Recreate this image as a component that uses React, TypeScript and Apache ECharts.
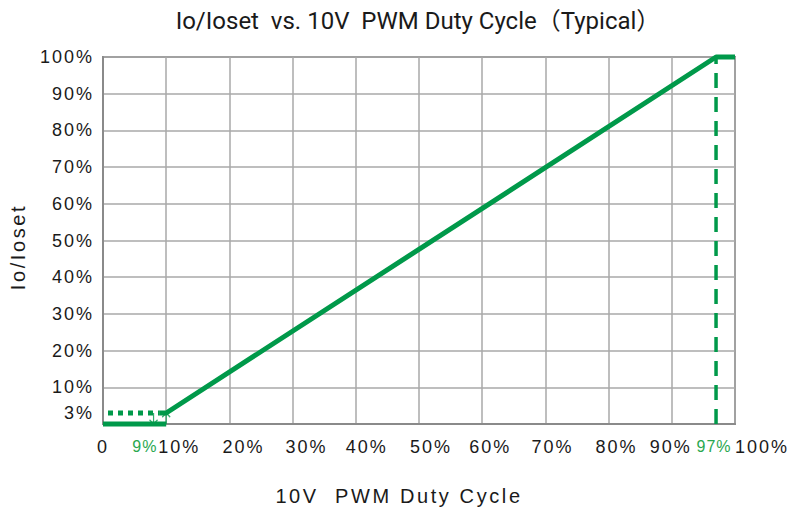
import React, { useEffect, useRef } from 'react';
import * as echarts from 'echarts';

// ---- data ----
const xLabelValues = [0, 9, 10, 20, 30, 40, 50, 60, 70, 80, 90, 97, 100];
const xLabelTexts = ['0', '9%', '10%', '20%', '30%', '40%', '50%', '60%', '70%', '80%', '90%', '97%', '100%'];
const highlightedX = [9, 97];
const yLabelValues = [3, 10, 20, 30, 40, 50, 60, 70, 80, 90, 100];
const yLabelTexts = ['3%', '10%', '20%', '30%', '40%', '50%', '60%', '70%', '80%', '90%', '100%'];

const curveDuty = [9, 10, 97, 100];
const curveIo = [3, 3, 100, 100];
const standbyDuty = [0, 9];
const standbyIo = [3, 3];
const offDuty = [0, 10];
const offIo = [0, 0];
const kneeDuty = [97, 97];
const kneeIo = [0, 100];
const arrowDuty = [8, 10];
const arrowIo = [1.5, 1.5];
const arrowDir = ['down', 'up'];

const GREEN = '#00994a';
const LABEL_GREEN = '#2aa84f';
const GRID = '#a9a9a9';
const FRAME = '#8a8a8a';

// label horizontal shifts (styling only)
const xShift: Record<number, number> = { 0: 0, 9: -15, 10: 13, 20: 14, 30: 14, 40: 11, 50: 12, 60: 8, 70: 7, 80: 8, 90: -1, 97: -2, 100: 27 };

const zip = (a: number[], b: number[]) => a.map((v, i) => [v, b[i]]);

const DOWN = 'path://M4 0 L4 12 M0.5 7.5 L4 12 L7.5 7.5';
const UP = 'path://M4 12 L4 0 M0.5 4.5 L4 0 L7.5 4.5';

function buildOption() {
  const rich: Record<string, any> = {};
  xLabelValues.forEach((v, i) => {
    const s = xShift[v] ?? 0;
    const hl = highlightedX.includes(v);
    rich['l' + i] = {
      fontSize: hl ? 16 : 18,
      color: hl ? LABEL_GREEN : '#1a1a1a',
      fontFamily: 'Liberation Sans, Arial, sans-serif',
      padding: s >= 0 ? [0, 0, 0, 2 * s] : [0, -2 * s, 0, 0],
    };
  });
  return {
    animation: false,
    backgroundColor: '#ffffff',
    grid: {
      left: 103, right: 58, top: 57, bottom: 88,
      show: true, borderColor: FRAME, borderWidth: 2,
    },
    xAxis: {
      type: 'value', min: 0, max: 100, interval: 10,
      axisLine: { show: true, lineStyle: { color: FRAME, width: 2 } },
      axisTick: { show: false },
      splitLine: { show: true, lineStyle: { color: GRID, width: 1.5 } },
      axisLabel: {
        customValues: xLabelValues,
        margin: 14,
        formatter: (v: number) => {
          const i = xLabelValues.indexOf(v);
          return i < 0 ? '' : `{l${i}|${xLabelTexts[i]}}`;
        },
        rich,
      },
    },
    yAxis: {
      type: 'value', min: 0, max: 100, interval: 10,
      axisLine: { show: true, lineStyle: { color: FRAME, width: 2 } },
      axisTick: { show: false },
      splitLine: { show: true, lineStyle: { color: GRID, width: 1.5 } },
      axisLabel: {
        customValues: yLabelValues,
        margin: 9,
        fontSize: 18,
        color: '#1a1a1a',
        fontFamily: 'Liberation Sans, Arial, sans-serif',
        formatter: (v: number) => {
          const i = yLabelValues.indexOf(v);
          return i < 0 ? '' : yLabelTexts[i];
        },
      },
    },
    graphic: [
      {
        type: 'text', x: 418, y: 21,
        style: {
          text: 'Io/Ioset  vs. 10V  PWM Duty Cycle（Typical）',
          fontSize: 24, fill: '#1a1a1a',
          fontFamily: 'Roboto, Noto Sans CJK SC, sans-serif',
          textAlign: 'center', textVerticalAlign: 'middle',
        },
      },
      {
        type: 'text', x: 399, y: 496,
        style: {
          text: '10V  PWM Duty Cycle',
          fontSize: 20, fill: '#1a1a1a',
          fontFamily: 'Liberation Sans, Arial, sans-serif',
          textAlign: 'center', textVerticalAlign: 'middle',
        },
      },
      {
        type: 'text', x: 18, y: 247, rotation: Math.PI / 2,
        style: {
          text: 'Io/Ioset',
          fontSize: 20, fill: '#1a1a1a',
          fontFamily: 'Liberation Sans, Arial, sans-serif',
          textAlign: 'center', textVerticalAlign: 'middle',
        },
      },
    ],
    series: [
      {
        type: 'line', data: zip(kneeDuty, kneeIo), symbol: 'none', clip: false, z: 3,
        lineStyle: { color: GREEN, width: 3.5, type: [15, 9] },
      },
      {
        type: 'line', data: zip(standbyDuty, standbyIo), symbol: 'none', clip: false, z: 3,
        lineStyle: { color: GREEN, width: 5, type: [5, 5], dashOffset: -5 },
      },
      {
        type: 'line', data: zip(offDuty, offIo), symbol: 'none', clip: false, z: 4,
        lineStyle: { color: GREEN, width: 5 },
      },
      {
        type: 'line', data: zip(curveDuty, curveIo), symbol: 'none', clip: false, z: 4,
        lineStyle: { color: GREEN, width: 5 },
      },
      {
        type: 'scatter', clip: false, z: 5,
        data: arrowDuty.map((d, i) => ({
          value: [d, arrowIo[i]],
          symbol: arrowDir[i] === 'down' ? DOWN : UP,
        })),
        symbolSize: [8, 11],
        itemStyle: { color: 'none', borderColor: GREEN, borderWidth: 1.4 },
        silent: true,
      },
    ],
  };
}

export default function App() {
  const ref = useRef<HTMLDivElement>(null);
  useEffect(() => {
    const el = ref.current!;
    const chart = echarts.init(el, null, { renderer: 'svg' });
    const applySpacing = () => {
      el.querySelectorAll('text').forEach((t) => {
        const fs = parseFloat(getComputedStyle(t).fontSize);
        let ls = 0;
        if (fs >= 21.5) ls = 0;
        else if (fs >= 19.5) ls = 2.6;
        else if (fs >= 17.5) ls = 2;
        else ls = 1;
        (t as SVGTextElement).style.letterSpacing = ls + 'px';
      });
    };
    chart.on('finished', applySpacing);
    chart.setOption(buildOption() as any);
    applySpacing();
    return () => chart.dispose();
  }, []);
  return <div ref={ref} style={{ position: 'fixed', left: 0, top: 0, width: 793, height: 512 }} />;
}
